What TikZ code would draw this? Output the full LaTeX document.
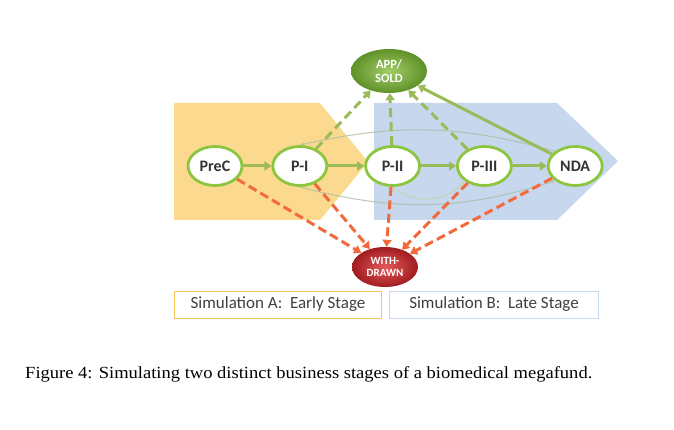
\documentclass[tikz,border=0pt]{standalone}
\usepackage{fontspec}
\setmainfont[FakeStretch=1.09]{Liberation Serif}
\newfontfamily\calib{Carlito}
\usetikzlibrary{positioning,arrows.meta,shapes.geometric}

\definecolor{stageGreen}{HTML}{8CC63F}
\definecolor{flowGreen}{HTML}{9BBB59}
\definecolor{failOrange}{HTML}{F26A3B}
\definecolor{earlyFill}{HTML}{FBD98E}
\definecolor{lateFill}{HTML}{C6D7EE}
\definecolor{earlyLine}{HTML}{F6C65A}
\definecolor{lateLine}{HTML}{C9DAF0}
\definecolor{arcGray}{HTML}{A9BFA0}
\definecolor{soldIn}{HTML}{A2CC68}
\definecolor{soldOut}{HTML}{5F9128}
\definecolor{wdIn}{HTML}{E45A5A}
\definecolor{wdOut}{HTML}{A01C1F}

\begin{document}
\begin{tikzpicture}[x=1pt,y=-1pt,
    every node/.style={font=\calib},
    stage/.style={ellipse,draw=stageGreen,line width=2.8pt,fill=white,
        minimum width=54pt,minimum height=39pt,inner sep=0pt,
        font=\calib\fontsize{16}{16}\selectfont\bfseries,text=black!80},
    sink/.style={ellipse,minimum width=70pt,minimum height=42pt,inner sep=0pt,
        align=center,font=\calib\fontsize{12.5}{13.5}\selectfont\bfseries,text=white},
    advance/.style={draw=flowGreen,line width=3pt,-{Triangle[length=7pt,width=9pt]}},
    sold/.style={advance,dash pattern=on 9pt off 5pt},
    fail/.style={draw=failOrange,line width=3pt,dash pattern=on 9pt off 4.5pt,
        -{Triangle[length=7pt,width=9pt]}},
    skip/.style={draw=arcGray,line width=1pt,opacity=0.8,-{Latex[length=4pt]}},
    simbox/.style={draw,line width=1pt,minimum width=207pt,minimum height=27pt,
        inner sep=0pt,font=\calib\fontsize{17}{17}\selectfont,text=black!75}]

\useasboundingbox[fill=white] (0,0) rectangle (674,430);

% Stage arrows (background)
\fill[earlyFill] (174,103) -- (320,103) -- (368,162) -- (320,220) -- (174,220) -- cycle;
\fill[lateFill] (374,103) -- (557,103) -- (618,161) -- (557,220) -- (374,220) -- cycle;

% Phases
\node[stage] (prec) at (215,166) {PreC};
\node[stage, right=28pt of prec] (p1) {P-I};
\node[stage, right=36pt of p1] (p2) {P-II};
\node[stage, right=35pt of p2] (p3) {P-III};
\node[stage, right=34pt of p3] (nda) {NDA};

% Outcomes
\node[sink, inner color=soldIn, outer color=soldOut,
      minimum width=76pt, minimum height=44pt] (app) at (389,71) {APP/\\SOLD};
\node[sink, inner color=wdIn, outer color=wdOut,
      minimum width=66pt, minimum height=40pt,
      font=\calib\fontsize{11}{12}\selectfont\bfseries] (wd) at (385,267) {WITH-\\DRAWN};

% Skipping arcs
\draw[skip] (nda.north west) to[bend right=14] (p1.north);
\draw[skip] (p1.south) to[bend right=16] (nda.south west);
\draw[skip, draw=flowGreen!60] (p2.south) to[bend right=45] (p3.south west);

% Transitions
\draw[advance] (prec) -- (p1);
\draw[advance] (p1) -- (p2);
\draw[advance] (p2) -- (p3);
\draw[advance] (p3) -- (nda);
\draw[sold] (p1) -- (app);
\draw[sold] (p2) -- (app);
\draw[sold] (p3) -- (app);
\draw[advance] (nda) -- (app);
\draw[fail] (prec) -- (wd);
\draw[fail] (p1) -- (wd);
\draw[fail] (p2) -- (wd);
\draw[fail] (p3) -- (wd);
\draw[fail] (nda) -- (wd);

% Simulation boxes
\node[simbox, draw=earlyLine] (simA) at (278,304.5) {Simulation A:\ \ Early Stage};
\node[simbox, draw=lateLine, right=7pt of simA, minimum width=209pt] (simB) {Simulation B:\ \ Late Stage};

% Caption
\node[anchor=base west, font=\rmfamily\fontsize{17}{19}\selectfont, inner sep=0pt] (caption)
    at (25,378) {Figure 4: Simulating two distinct business stages of a biomedical megafund.};
\end{tikzpicture}
\end{document}
